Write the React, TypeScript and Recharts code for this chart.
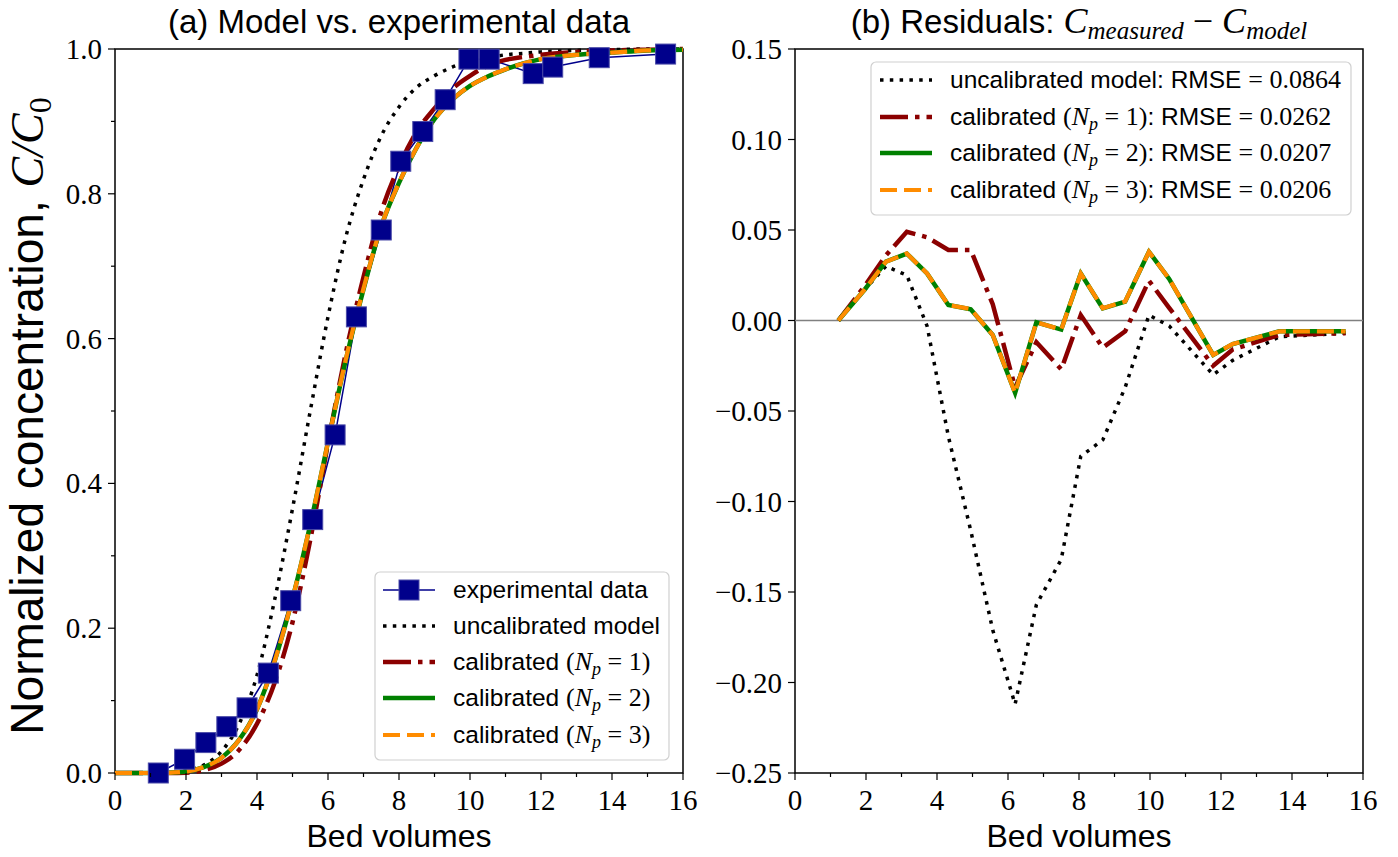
import React from 'react';
import { LineChart, Line, XAxis, YAxis, ReferenceArea, ReferenceLine } from 'recharts';

// measured breakthrough (bed volumes, C/C0)
const bedVolumes = [1.22, 1.96, 2.56, 3.15, 3.72, 4.32, 4.95, 5.57, 6.2, 6.8, 7.5, 8.05, 8.67, 9.3, 9.97, 10.54, 11.78, 12.33, 13.64, 15.51];
const measured = [0.0, 0.019, 0.042, 0.064, 0.09, 0.138, 0.238, 0.35, 0.467, 0.63, 0.75, 0.845, 0.886, 0.93, 0.986, 0.986, 0.966, 0.975, 0.988, 0.993];

// model curves read on a grid
const modelGrid = [0, 0.5, 1, 1.5, 2, 2.5, 3, 3.5, 4, 4.5, 5, 5.5, 6, 6.5, 7, 7.5, 8, 8.5, 9, 9.5, 10, 10.5, 11, 11.5, 12, 13, 14, 15, 16];
const modelUncal = [0, 0, 0, 0.0005, 0.003, 0.011, 0.03, 0.068, 0.135, 0.24, 0.365, 0.5, 0.63, 0.74, 0.82, 0.88, 0.92, 0.947, 0.963, 0.975, 0.983, 0.988, 0.992, 0.994, 0.996, 0.998, 0.999, 1.0, 1.0];
const modelNp1 = [0, 0, 0, 0, 0.0005, 0.004, 0.013, 0.032, 0.068, 0.125, 0.208, 0.322, 0.455, 0.58, 0.685, 0.775, 0.838, 0.886, 0.918, 0.945, 0.963, 0.977, 0.985, 0.989, 0.992, 0.996, 0.998, 0.999, 1.0];
const modelNp2 = [0, 0, 0, 0.0003, 0.002, 0.008, 0.021, 0.046, 0.088, 0.155, 0.241, 0.343, 0.457, 0.57, 0.668, 0.755, 0.815, 0.864, 0.903, 0.93, 0.949, 0.962, 0.972, 0.98, 0.986, 0.992, 0.995, 0.998, 0.999];
const modelNp3 = [0, 0, 0, 0.0003, 0.002, 0.008, 0.021, 0.046, 0.088, 0.155, 0.241, 0.343, 0.457, 0.571, 0.669, 0.755, 0.815, 0.864, 0.903, 0.93, 0.949, 0.962, 0.972, 0.98, 0.986, 0.992, 0.995, 0.998, 0.999];

// residuals C_measured - C_model at the measured points
const residUncal = [0, 0.017, 0.03, 0.025, -0.003, -0.064, -0.116, -0.171, -0.212, -0.157, -0.132, -0.075, -0.066, -0.037, 0.003, -0.003, -0.03, -0.022, -0.009, -0.007];
const residNp1 = [0, 0.019, 0.036, 0.049, 0.046, 0.039, 0.039, 0.009, -0.037, -0.012, -0.027, 0.003, -0.015, -0.006, 0.022, 0.007, -0.025, -0.016, -0.008, -0.007];
const residNp2 = [0, 0.017, 0.0325, 0.037, 0.026, 0.0086, 0.0062, -0.008, -0.04, -0.001, -0.005, 0.026, 0.0067, 0.0104, 0.038, 0.023, -0.019, -0.013, -0.006, -0.006];
const residNp3 = [0, 0.017, 0.0325, 0.037, 0.026, 0.0086, 0.0063, -0.008, -0.04, -0.001, -0.005, 0.026, 0.0068, 0.0105, 0.038, 0.023, -0.019, -0.013, -0.006, -0.006];

const rmseLabels = ['0.0864', '0.0262', '0.0207', '0.0206'];

const xTicks = [0, 1, 2, 3, 4, 5, 6, 7, 8, 9, 10, 11, 12, 13, 14, 15, 16];
const yTicksA = [0, 0.1, 0.2, 0.3, 0.4, 0.5, 0.6, 0.7, 0.8, 0.9, 1.0];
const yTicksB = [-0.25, -0.2, -0.15, -0.1, -0.05, 0, 0.05, 0.1, 0.15];

const SANS = '"Liberation Sans", Arial, Helvetica, sans-serif';
const SERIF = '"Liberation Serif", "DejaVu Serif", serif';

const styles = {
  exp: { color: '#00008B', width: 1.5 },
  uncal: { color: '#000000', width: 3.5, dash: '3.5 6.3' },
  np1: { color: '#8B0000', width: 4.5, dash: '28 7 4.5 7' },
  np2: { color: '#008000', width: 4.5, dash: undefined as string | undefined },
  np3: { color: '#FF8C00', width: 4.2, dash: '17 7' },
};

const expData = bedVolumes.map((x, i) => ({ x, y: measured[i] }));
const curve = (vals: number[]) => modelGrid.map((x, i) => ({ x, y: vals[i] }));
const residData = bedVolumes.map((x, i) => ({
  x,
  uncal: residUncal[i],
  np1: residNp1[i],
  np2: residNp2[i],
  np3: residNp3[i],
}));

function XTick({ x, y, payload }: any) {
  const v = payload.value as number;
  const major = v % 2 === 0;
  return (
    <g>
      <line x1={x} x2={x} y1={y} y2={y + (major ? 7 : 4)} stroke="#000" strokeWidth={1.2} />
      {major && (
        <text x={x} y={y + 37} textAnchor="middle" fontFamily={SERIF} fontSize={29} fill="#000">
          {v}
        </text>
      )}
    </g>
  );
}

function YTickA({ x, y, payload }: any) {
  const v = payload.value as number;
  const major = Math.round(v * 10) % 2 === 0;
  return (
    <g>
      <line x1={x - (major ? 7 : 4)} x2={x} y1={y} y2={y} stroke="#000" strokeWidth={1.2} />
      {major && (
        <text x={x - 13} y={y + 10} textAnchor="end" fontFamily={SERIF} fontSize={29} fill="#000">
          {v.toFixed(1)}
        </text>
      )}
    </g>
  );
}

function YTickB({ x, y, payload }: any) {
  const v = payload.value as number;
  const label = (v < -1e-9 ? '\u2212' : '') + Math.abs(v).toFixed(2);
  return (
    <g>
      <line x1={x - 7} x2={x} y1={y} y2={y} stroke="#000" strokeWidth={1.2} />
      <text x={x - 13} y={y + 10} textAnchor="end" fontFamily={SERIF} fontSize={29} fill="#000">
        {label}
      </text>
    </g>
  );
}

function Square(props: any) {
  const { cx, cy, index } = props;
  if (cx == null || cy == null) return <g key={index} />;
  return <rect key={index} x={cx - 10} y={cy - 10} width={20} height={20} fill="#00008B" stroke="#4a4aa8" strokeWidth={1} />;
}

function Np({ n }: { n: number }) {
  return (
    <>
      <tspan fontFamily={SERIF} fontSize={26}>(</tspan>
      <tspan fontFamily={SERIF} fontSize={26} fontStyle="italic">N</tspan>
      <tspan fontFamily={SERIF} fontStyle="italic" fontSize={18} dy={5}>p</tspan>
      <tspan fontFamily={SERIF} fontSize={26} dy={-5}>{` = ${n})`}</tspan>
    </>
  );
}

function Handle({ x1, x2, y, s }: { x1: number; x2: number; y: number; s: { color: string; width: number; dash?: string } }) {
  return <line x1={x1} x2={x2} y1={y} y2={y} stroke={s.color} strokeWidth={s.width} strokeDasharray={s.dash} />;
}

function Overlay() {
  const rowsA = [590, 626, 662, 698, 735];
  const rowsB = [80, 117, 153, 190];
  return (
    <svg width={1398} height={857} style={{ position: 'absolute', left: 0, top: 0, pointerEvents: 'none' }}>
      <text x={399} y={33} textAnchor="middle" fontFamily={SANS} fontSize={33} fill="#000">
        (a) Model vs. experimental data
      </text>
      <text x={1079} y={33} textAnchor="middle" fontFamily={SANS} fontSize={33} fill="#000">
        (b) Residuals:{' '}
        <tspan fontFamily={SERIF} fontSize={36} fontStyle="italic">C</tspan>
        <tspan fontFamily={SERIF} fontStyle="italic" fontSize={25} dy={6}>measured</tspan>
        <tspan fontFamily={SERIF} fontSize={36} dy={-6}>{' \u2212 '}</tspan>
        <tspan fontFamily={SERIF} fontSize={36} fontStyle="italic">C</tspan>
        <tspan fontFamily={SERIF} fontStyle="italic" fontSize={25} dy={6}>model</tspan>
      </text>
      <text x={399} y={847} textAnchor="middle" fontFamily={SANS} fontSize={32} fill="#000">Bed volumes</text>
      <text x={1079} y={847} textAnchor="middle" fontFamily={SANS} fontSize={32} fill="#000">Bed volumes</text>
      <text transform="translate(43,416) rotate(-90)" textAnchor="middle" fontFamily={SANS} fontSize={46} fill="#000">
        Normalized concentration,{' '}
        <tspan fontFamily={SERIF} fontStyle="italic">C/C</tspan>
        <tspan fontFamily={SERIF} fontSize={32} dy={8}>0</tspan>
      </text>

      {/* legend (a) */}
      <rect x={375} y={572} width={294} height={188} rx={5} fill="#fff" fillOpacity={0.8} stroke="#d0d0d0" strokeWidth={1.2} />
      <line x1={383} x2={435} y1={rowsA[0]} y2={rowsA[0]} stroke={styles.exp.color} strokeWidth={1.5} />
      <rect x={399} y={rowsA[0] - 10} width={20} height={20} fill="#00008B" stroke="#4a4aa8" strokeWidth={1} />
      <Handle x1={383} x2={435} y={rowsA[1]} s={styles.uncal} />
      <Handle x1={383} x2={435} y={rowsA[2]} s={styles.np1} />
      <Handle x1={383} x2={435} y={rowsA[3]} s={styles.np2} />
      <Handle x1={383} x2={435} y={rowsA[4]} s={styles.np3} />
      <g fontFamily={SANS} fontSize={24.5} fill="#000">
        <text x={453} y={rowsA[0] + 8}>experimental data</text>
        <text x={453} y={rowsA[1] + 8}>uncalibrated model</text>
        <text x={453} y={rowsA[2] + 8}>calibrated <Np n={1} /></text>
        <text x={453} y={rowsA[3] + 8}>calibrated <Np n={2} /></text>
        <text x={453} y={rowsA[4] + 8}>calibrated <Np n={3} /></text>
      </g>

      {/* legend (b) */}
      <rect x={871} y={62} width={480} height={153} rx={5} fill="#fff" fillOpacity={0.8} stroke="#d0d0d0" strokeWidth={1.2} />
      <Handle x1={880} x2={932} y={rowsB[0]} s={styles.uncal} />
      <Handle x1={880} x2={932} y={rowsB[1]} s={styles.np1} />
      <Handle x1={880} x2={932} y={rowsB[2]} s={styles.np2} />
      <Handle x1={880} x2={932} y={rowsB[3]} s={styles.np3} />
      <g fontFamily={SANS} fontSize={24.5} fill="#000">
        <text x={950} y={rowsB[0] + 8}>
          uncalibrated model: RMSE <tspan fontFamily={SERIF} fontSize={26}>= {rmseLabels[0]}</tspan>
        </text>
        {[1, 2, 3].map((n) => (
          <text key={n} x={950} y={rowsB[n] + 8}>
            calibrated <Np n={n} />: RMSE <tspan fontFamily={SERIF} fontSize={26}>= {rmseLabels[n]}</tspan>
          </text>
        ))}
      </g>
    </svg>
  );
}

export default function App() {
  return (
    <div style={{ position: 'absolute', left: 0, top: 0, width: 1398, height: 857, background: '#fff' }}>
      <div style={{ position: 'absolute', left: 0, top: 0 }}>
        <LineChart width={700} height={857} margin={{ top: 49, right: 17, left: 0, bottom: 0 }}>
          <XAxis
            dataKey="x"
            type="number"
            domain={[0, 16]}
            ticks={xTicks}
            interval={0}
            axisLine={false}
            tickLine={false}
            tickSize={0}
            tickMargin={0}
            height={84}
            tick={<XTick />}
          />
          <YAxis
            type="number"
            domain={[0, 1]}
            ticks={yTicksA}
            interval={0}
            axisLine={false}
            tickLine={false}
            tickSize={0}
            tickMargin={0}
            width={115}
            tick={<YTickA />}
          />
          <ReferenceArea x1={0} x2={16} y1={0} y2={1} fill="none" fillOpacity={0} stroke="#000" strokeWidth={1.5} />
          <Line
            data={expData}
            dataKey="y"
            type="linear"
            stroke={styles.exp.color}
            strokeWidth={styles.exp.width}
            dot={Square}
            activeDot={false}
            isAnimationActive={false}
          />
          <Line data={curve(modelUncal)} dataKey="y" type="monotone" stroke={styles.uncal.color} strokeWidth={styles.uncal.width} strokeDasharray={styles.uncal.dash} dot={false} activeDot={false} isAnimationActive={false} />
          <Line data={curve(modelNp1)} dataKey="y" type="monotone" stroke={styles.np1.color} strokeWidth={styles.np1.width} strokeDasharray={styles.np1.dash} dot={false} activeDot={false} isAnimationActive={false} />
          <Line data={curve(modelNp2)} dataKey="y" type="monotone" stroke={styles.np2.color} strokeWidth={styles.np2.width} dot={false} activeDot={false} isAnimationActive={false} />
          <Line data={curve(modelNp3)} dataKey="y" type="monotone" stroke={styles.np3.color} strokeWidth={styles.np3.width} strokeDasharray={styles.np3.dash} dot={false} activeDot={false} isAnimationActive={false} />
        </LineChart>
      </div>
      <div style={{ position: 'absolute', left: 680, top: 0 }}>
        <LineChart width={700} height={857} data={residData} margin={{ top: 49, right: 17, left: 0, bottom: 0 }}>
          <XAxis
            dataKey="x"
            type="number"
            domain={[0, 16]}
            ticks={xTicks}
            interval={0}
            axisLine={false}
            tickLine={false}
            tickSize={0}
            tickMargin={0}
            height={84}
            tick={<XTick />}
          />
          <YAxis
            type="number"
            domain={[-0.25, 0.15]}
            ticks={yTicksB}
            interval={0}
            axisLine={false}
            tickLine={false}
            tickSize={0}
            tickMargin={0}
            width={115}
            tick={<YTickB />}
          />
          <ReferenceArea x1={0} x2={16} y1={-0.25} y2={0.15} fill="none" fillOpacity={0} stroke="#000" strokeWidth={1.5} />
          <ReferenceLine y={0} stroke="#808080" strokeWidth={1.5} />
          <Line dataKey="uncal" type="linear" stroke={styles.uncal.color} strokeWidth={styles.uncal.width} strokeDasharray={styles.uncal.dash} dot={false} activeDot={false} isAnimationActive={false} />
          <Line dataKey="np1" type="linear" stroke={styles.np1.color} strokeWidth={styles.np1.width} strokeDasharray={styles.np1.dash} dot={false} activeDot={false} isAnimationActive={false} />
          <Line dataKey="np2" type="linear" stroke={styles.np2.color} strokeWidth={styles.np2.width} dot={false} activeDot={false} isAnimationActive={false} />
          <Line dataKey="np3" type="linear" stroke={styles.np3.color} strokeWidth={styles.np3.width} strokeDasharray={styles.np3.dash} dot={false} activeDot={false} isAnimationActive={false} />
        </LineChart>
      </div>
      <Overlay />
    </div>
  );
}
